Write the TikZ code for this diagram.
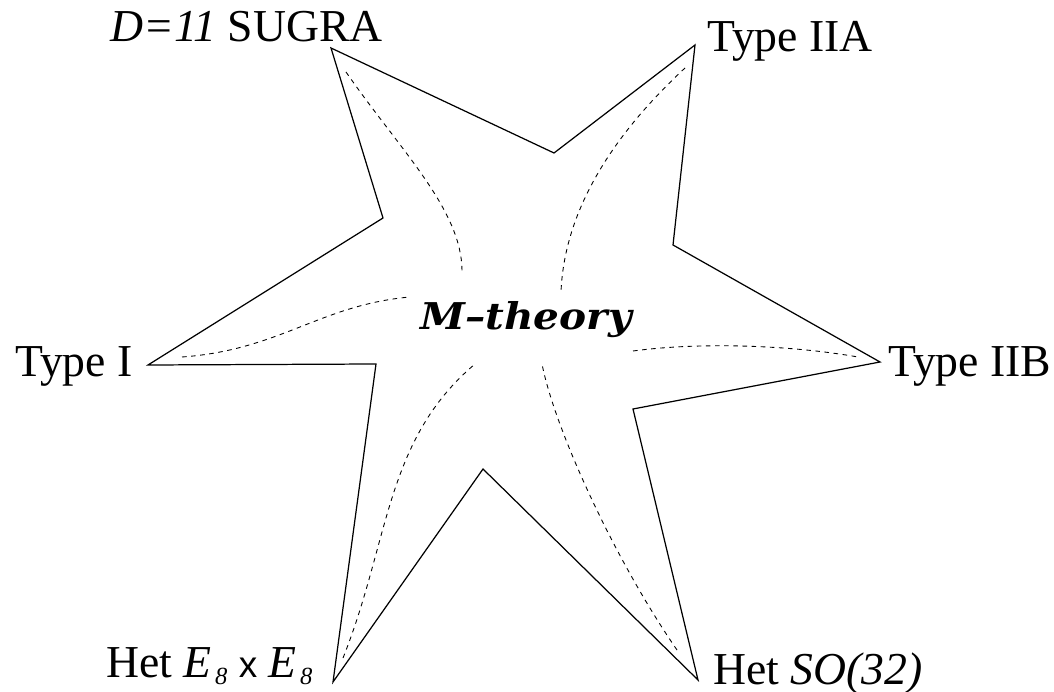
\documentclass[tikz,border=0pt]{standalone}
\usepackage{fontspec}
\setmainfont{Liberation Serif}
\newfontfamily\lsans{Liberation Sans}
\newfontfamily\dvserif{DejaVu Serif}
\usepackage{graphicx}
\usepackage{tikz}
\usetikzlibrary{positioning}
\definecolor{ink}{RGB}{0,0,0}
\tikzset{
  rim/.style={draw=ink,line width=0.7pt},
  strand/.style={draw=ink,line width=0.5pt,dash pattern=on 2.6pt off 2.6pt},
  lbl/.style={anchor=base west,inner sep=0pt,font=\fontsize{26}{28}\selectfont},
  core/.style={anchor=base west,inner sep=0pt,font=\dvserif\bfseries\itshape\fontsize{21}{23}\selectfont},
}
\newcommand{\lowsub}[1]{\kern0.07cm\raisebox{-0.14cm}{\fontsize{14}{14}\selectfont\textit{#1}}}

\begin{document}
\begin{tikzpicture}
\useasboundingbox (0,0) rectangle (21.08,-13.84);
% tips of the star
\coordinate (tS) at (6.62,-0.96);
\coordinate (tA) at (13.90,-0.90);
\coordinate (tB) at (17.60,-7.24);
\coordinate (tO) at (13.96,-13.60);
\coordinate (tE) at (6.66,-13.64);
\coordinate (tI) at (2.96,-7.30);
% inner corners
\coordinate (iSA) at (11.08,-3.06);
\coordinate (iAB) at (13.46,-4.90);
\coordinate (iBO) at (12.66,-8.18);
\coordinate (iOE) at (9.66,-9.38);
\coordinate (iEI) at (7.52,-7.28);
\coordinate (iIS) at (7.66,-4.36);
\draw[rim] (tS) -- (iSA) -- (tA) -- (iAB) -- (tB) -- (iBO) -- (tO)
  -- (iOE) -- (tE) -- (iEI) -- (tI) -- (iIS) -- cycle;
% dashed arms
\coordinate (dS) at (6.92,-1.44);  \coordinate (eS) at (9.24,-5.42);
\coordinate (dA) at (13.70,-1.36); \coordinate (eA) at (11.22,-5.84);
\coordinate (dB) at (17.16,-7.14); \coordinate (eB) at (12.66,-7.02);
\coordinate (dO) at (13.54,-13.00); \coordinate (eO) at (10.84,-7.28);
\coordinate (dE) at (6.86,-13.16); \coordinate (eE) at (9.50,-7.28);
\coordinate (dI) at (3.64,-7.14);  \coordinate (eI) at (8.20,-5.94);
\draw[strand] (dS) .. controls (8.0,-3.0) and (9.24,-4.2) .. (eS);
\draw[strand] (dA) .. controls (12.8,-2.2) and (11.3,-3.8) .. (eA);
\draw[strand] (eB) .. controls (14.0,-6.84) and (15.8,-6.9) .. (dB);
\draw[strand] (dO) .. controls (12.3,-11.2) and (11.1,-8.6) .. (eO);
\draw[strand] (dE) .. controls (7.8,-10.8) and (7.7,-8.8) .. (eE);
\draw[strand] (dI) .. controls (5.6,-7.0) and (6.4,-6.1) .. (eI);
% labels
\node[lbl] (sugra) at (2.20,-0.84) {\textit{D=11} SUGRA};
\node[lbl] (iia) at (14.14,-1.04) {Type IIA};
\node[lbl] (typei) at (0.30,-7.54) {Type I};
\node[lbl] (iib) at (17.76,-7.54) {Type IIB};
\node[lbl] (eight) at (2.12,-13.54)
  {Het \textit{E}\lowsub{8} {\lsans\fontsize{21}{24}\selectfont x} \textit{E}\lowsub{8}};
\node[lbl] (so) at (14.26,-13.68) {Het \textit{SO(32)}};
\node[core] (mth) at (8.40,-6.60) {\scalebox{1.1}[1]{M–theory}};
\end{tikzpicture}
\end{document}
